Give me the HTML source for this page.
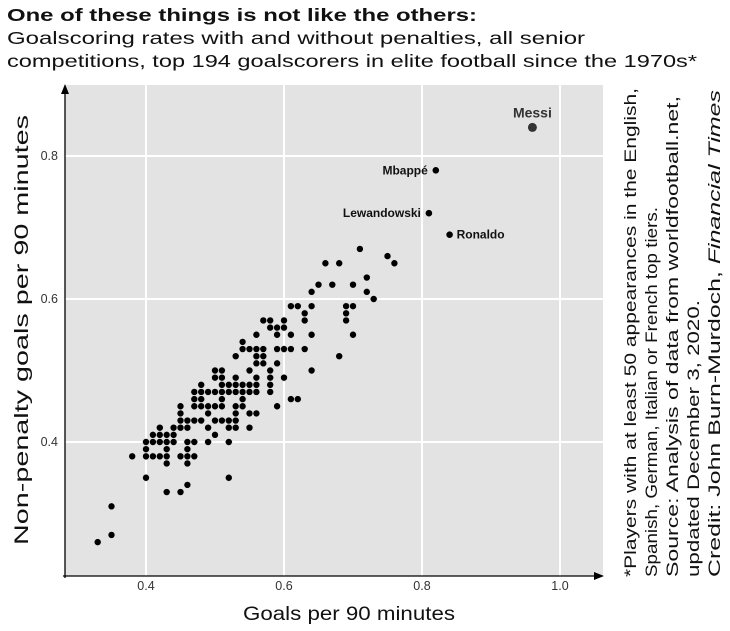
<!DOCTYPE html>
<html><head><meta charset="utf-8"><style>
body{margin:0;background:#fff;}
svg{display:block;font-family:"Liberation Sans","DejaVu Sans",sans-serif;}
</style></head><body>
<svg id="chart" width="730" height="631" viewBox="0 0 730 631">
<text x="7" y="21" font-size="17.5" font-weight="bold" fill="#111" textLength="470" lengthAdjust="spacingAndGlyphs">One of these things is not like the others:</text>
<text x="7" y="44" font-size="17.5" fill="#111" textLength="578" lengthAdjust="spacingAndGlyphs">Goalscoring rates with and without penalties, all senior</text>
<text x="7" y="67" font-size="17.5" fill="#111" textLength="690" lengthAdjust="spacingAndGlyphs">competitions, top 194 goalscorers in elite football since the 1970s*</text>
<rect x="65" y="85" width="538" height="491" fill="#e3e3e3"/>
<g id="grid"></g>
<g id="points"></g>
<g id="labels"></g>
<line x1="65" y1="578" x2="65" y2="90" stroke="#000" stroke-width="1.3"/>
<path d="M65,84 L61,94 L69,94 Z" fill="#000"/>
<line x1="63" y1="576" x2="598" y2="576" stroke="#000" stroke-width="1.3"/>
<path d="M604,576 L594,572 L594,580 Z" fill="#000"/>
<text x="243" y="620" font-size="19" fill="#111" textLength="212" lengthAdjust="spacingAndGlyphs">Goals per 90 minutes</text>
<text transform="translate(28,545) rotate(-90)" font-size="19" fill="#111" textLength="430" lengthAdjust="spacingAndGlyphs">Non-penalty goals per 90 minutes</text>
<g transform="translate(636,577) rotate(-90)" font-size="17" fill="#111">
<text x="0" y="0" textLength="489" lengthAdjust="spacingAndGlyphs">*Players with at least 50 appearances in the English,</text>
<text x="0" y="21" textLength="370" lengthAdjust="spacingAndGlyphs">Spanish, German, Italian or French top tiers.</text>
<text x="0" y="42" textLength="481" lengthAdjust="spacingAndGlyphs">Source: Analysis of data from worldfootball.net,</text>
<text x="0" y="63" textLength="277" lengthAdjust="spacingAndGlyphs">updated December 3, 2020.</text>
<text x="0" y="84" textLength="487" lengthAdjust="spacingAndGlyphs">Credit: John Burn-Murdoch, <tspan font-style="italic">Financial Times</tspan></text>
</g>
</svg>
<script>
const xTicks=[0.4,0.6,0.8,1.0];
const yTicks=[0.4,0.6,0.8];
const xTickLabels=["0.4","0.6","0.8","1.0"];
const yTickLabels=["0.4","0.6","0.8"];
const goalsX=[33,35,35,38,40,43,45,46,52,52,
40,41,42,43,45,46,47, 43,46, 40,43,46,
40,41,42,43,44,46,47,49, 41,42,43,44,50,
42,44,45,46,49,52,53,55, 45,46,47,48,50,51,52,53,
45,49,53,55,56, 45,47,48,49,50,51,53,54,59,
47,48,51,54,61,62, 47,48,49,50,51,52,53,54,55,56,58,
48,51,52,53,54,55,56,58, 50,51,53,56,58,60,
50,51,55,58,64, 56,57,59, 53,56,57,68,
54,55,56,57,59,60,61,63, 54, 56,59,61,64,70,
58,59,60, 57,58,60,63,69, 63,69, 61,62,64,69,70,
73, 64,72, 65,67,70, 72, 66,68,76, 75, 71];
const npGoalsY=[26,27,31,38,35,33,33,34,35,40,
38,38,38,38,38,38,38, 37,37, 39,39,39,
40,40,40,40,40,40,40,40, 41,41,41,41,41,
42,42,42,42,42,42,42,42, 43,43,43,43,43,43,43,43,
44,44,44,44,44, 45,45,45,45,45,45,45,45,45,
46,46,46,46,46,46, 47,47,47,47,47,47,47,47,47,47,47,
48,48,48,48,48,48,48,48, 49,49,49,49,49,49,
50,50,50,50,50, 51,51,51, 52,52,52,52,
53,53,53,53,53,53,53,53, 54, 55,55,55,55,55,
56,56,56, 57,57,57,57,57, 58,58, 59,59,59,59,59,
60, 61,61, 62,62,62, 63, 65,65,65, 66, 67];
const namedPlayers=["Messi","Mbappé","Lewandowski","Ronaldo"];
const namedX=[0.96,0.82,0.81,0.84];
const namedY=[0.84,0.78,0.72,0.69];
const sx=v=>146+(v-0.4)*690;
const sy=v=>442-(v-0.4)*715;
const NS="http://www.w3.org/2000/svg";
const grid=document.getElementById('grid');
xTicks.forEach((t,i)=>{
  const l=document.createElementNS(NS,'line');
  l.setAttribute('x1',sx(t));l.setAttribute('x2',sx(t));l.setAttribute('y1',85);l.setAttribute('y2',576);
  l.setAttribute('stroke','#fff');l.setAttribute('stroke-width','2');
  
  
  grid.appendChild(l);
  const tx=document.createElementNS(NS,'text');
  tx.setAttribute('x',sx(t));tx.setAttribute('y',590);tx.setAttribute('font-size','12.5');tx.setAttribute('text-anchor','middle');tx.setAttribute('fill','#333');
  tx.textContent=xTickLabels[i];
  
  
  grid.appendChild(tx);
});
yTicks.forEach((t,i)=>{
  const l=document.createElementNS(NS,'line');
  l.setAttribute('x1',65);l.setAttribute('x2',603);l.setAttribute('y1',sy(t));l.setAttribute('y2',sy(t));
  l.setAttribute('stroke','#fff');l.setAttribute('stroke-width','2');
  
  
  grid.appendChild(l);
  const tx=document.createElementNS(NS,'text');
  tx.setAttribute('x',58);tx.setAttribute('y',sy(t)+4);tx.setAttribute('font-size','12.5');tx.setAttribute('text-anchor','end');tx.setAttribute('fill','#333');
  tx.textContent=yTickLabels[i];
  
  
  grid.appendChild(tx);
});
const pts=document.getElementById('points');
goalsX.forEach((x,i)=>{
  const c=document.createElementNS(NS,'circle');
  c.setAttribute('cx',sx(x/100));c.setAttribute('cy',sy(npGoalsY[i]/100));c.setAttribute('r',3.5);
  c.setAttribute('fill','#000');c.setAttribute('stroke','#e3e3e3');c.setAttribute('stroke-width','0.6');
  
  
  pts.appendChild(c);
});
const labs=document.getElementById('labels');
namedPlayers.forEach((n,i)=>{
  const c=document.createElementNS(NS,'circle');
  const big=i===0;
  c.setAttribute('cx',sx(namedX[i]));c.setAttribute('cy',sy(namedY[i]));c.setAttribute('r',big?4.5:3.3);
  c.setAttribute('fill',big?'#333':'#000');
  
  
  labs.appendChild(c);
  const t=document.createElementNS(NS,'text');
  let x=sx(namedX[i]),y=sy(namedY[i]),anchor='end',fs=12;
  if(i===0){anchor='middle';y-=10;fs=14;}
  else if(i===3){anchor='start';x+=7;y+=4;}
  else{x-=8;y+=4;}
  t.setAttribute('x',x);t.setAttribute('y',y);t.setAttribute('text-anchor',anchor);
  t.setAttribute('font-size',fs);t.setAttribute('font-weight','bold');t.setAttribute('fill',i===0?'#333':'#111');
  t.textContent=n;
  
  
  labs.appendChild(t);
});
</script>
</body></html>
